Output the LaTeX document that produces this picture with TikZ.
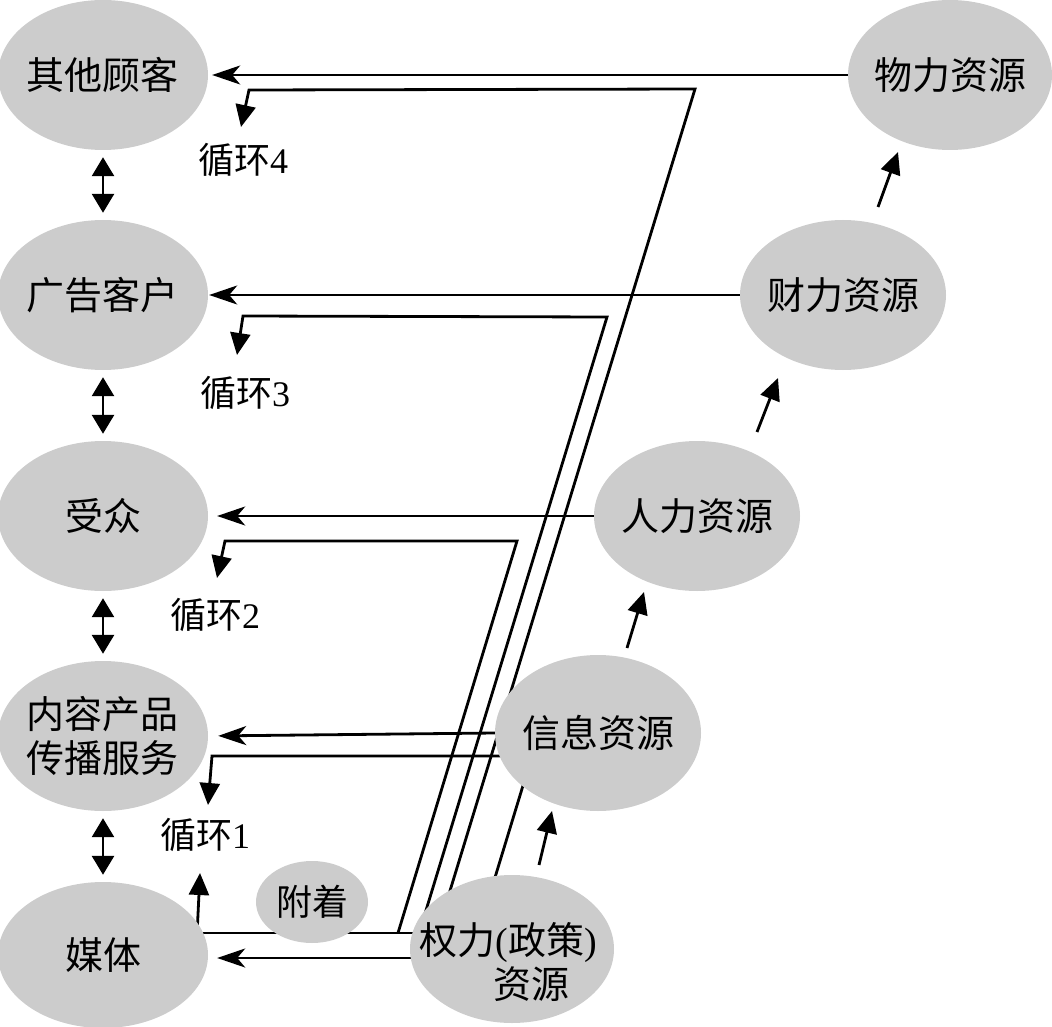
\documentclass[tikz,border=0pt]{standalone}
\usepackage{fontspec}
\setmainfont{Liberation Serif}
\newfontfamily\cjk{Noto Sans CJK SC}
\usetikzlibrary{shapes.geometric,arrows.meta,backgrounds}
\definecolor{ellgray}{RGB}{204,204,204}
\begin{document}
\begin{tikzpicture}[x=1pt,y=-1pt,
  ell/.style={ellipse, fill=ellgray, inner xsep=-5pt, inner ysep=0pt, minimum width=210pt, minimum height=150pt, align=center, font=\cjk\fontsize{38}{44}\selectfont},
  rell/.style={ell, minimum width=206pt},
  txt/.style={inner sep=0pt, align=center, font=\fontsize{38}{44}\selectfont},
  lbl/.style={inner sep=0pt, font=\fontsize{36}{40}\selectfont},
  conn/.style={line width=2.8pt},
  harr/.style={conn, -{Stealth[length=28pt,width=19pt,inset=8pt]}},
  tarr/.style={conn, -{Triangle[length=22pt,width=20pt]}},
  darr/.style={conn, {Triangle[length=19pt,width=22pt]}-{Triangle[length=19pt,width=22pt]}, shorten <=7pt, shorten >=7pt},
]
\useasboundingbox (0,0) rectangle (1052,1027);
% left column
\node[ell] (qita) at (103,75) {其他顾客};
\node[ell] (guanggao) at (103,295) {广告客户};
\node[ell] (shouzhong) at (103,516) {受众};
\node[ell] (neirong) at (103,736) {内容产品\\传播服务};
\node[ell, minimum height=146pt] (meiti) at (103,955) {媒体};
% right column
\node[rell, minimum width=204pt] (wuli) at (950,75) {物力资源};
\node[rell] (caili) at (843,295) {财力资源};
\node[rell] (renli) at (697,516) {人力资源};
\node[rell, minimum height=156pt] (xinxi) at (598,733) {信息资源};
\node[ell, minimum width=204pt, minimum height=148pt] (quanli) at (512,949) {};
\node[txt] (quanlitxt) at (508,962) {{\cjk 权力}({\cjk 政策})\\\hspace*{46pt}{\cjk 资源}};
\node[ell, minimum width=112pt, minimum height=82pt, font=\cjk\fontsize{36}{40}\selectfont] (fuzhuo) at (312,902) {附着};
% loop labels
\node[lbl] (c4) at (243,160) {{\cjk 循环}4};
\node[lbl] (c3) at (245,393) {{\cjk 循环}3};
\node[lbl] (c2) at (215,615) {{\cjk 循环}2};
\node[lbl] (c1) at (205,835) {{\cjk 循环}1};
% helper coordinates
\coordinate (l4a) at (438,930);
\coordinate (l4b) at (695,89);
\coordinate (l4c) at (249,90);
\coordinate (l4d) at (241,127);
\coordinate (l3a) at (420,930);
\coordinate (l3b) at (607,317);
\coordinate (l3c) at (243,316);
\coordinate (l3d) at (237,355);
\coordinate (l2a) at (398,933);
\coordinate (l2b) at (517,541);
\coordinate (l2c) at (225,541);
\coordinate (l2d) at (217,578);
\coordinate (l1a) at (479,930);
\coordinate (l1b) at (532,756);
\coordinate (l1c) at (212,756);
\coordinate (l1d) at (208,805);
\coordinate (u1a) at (197,935);
\coordinate (u1b) at (200,873);
\coordinate (s1a) at (539,865);
\coordinate (s1b) at (552,811);
\coordinate (s2a) at (627,648);
\coordinate (s2b) at (644,592);
\coordinate (s3a) at (757,432);
\coordinate (s3b) at (778,378);
\coordinate (s4a) at (878,207);
\coordinate (s4b) at (898,152);
\begin{scope}[on background layer]
  % horizontal arrows from resources
  \draw[harr, shorten >=4pt] (wuli.center) -- (qita.east);
  \draw[harr, shorten >=1pt] (caili.center) -- (guanggao.east);
  \draw[harr, shorten >=9pt] (renli.center) -- (shouzhong.east);
  \draw[harr, shorten <=-8pt, shorten >=10pt] (xinxi.west) -- (neirong.east);
  \draw[harr, shorten >=9pt] ([yshift=-9pt]quanli.center) -- ([yshift=-3pt]meiti.east);
  % media attached to power
  \draw[conn] ([yshift=22pt]meiti.center) -- ([yshift=16pt]quanli.center);
  % loops
  \draw[tarr] (l4a) -- (l4b) -- (l4c) -- (l4d);
  \draw[tarr] (l3a) -- (l3b) -- (l3c) -- (l3d);
  \draw[tarr] (l2a) -- (l2b) -- (l2c) -- (l2d);
  \draw[tarr] (l1a) -- (l1b) -- (l1c) -- (l1d);
  \draw[tarr] (u1a) -- (u1b);
  % resource chain
  \draw[tarr] (s1a) -- (s1b);
  \draw[tarr] (s2a) -- (s2b);
  \draw[tarr] (s3a) -- (s3b);
  \draw[tarr] (s4a) -- (s4b);
  % left column double arrows
  \draw[darr] (qita.south) -- (guanggao.north);
  \draw[darr] (guanggao.south) -- (shouzhong.north);
  \draw[darr] (shouzhong.south) -- (neirong.north);
  \draw[darr] (neirong.south) -- (meiti.north);
\end{scope}
\end{tikzpicture}
\end{document}
